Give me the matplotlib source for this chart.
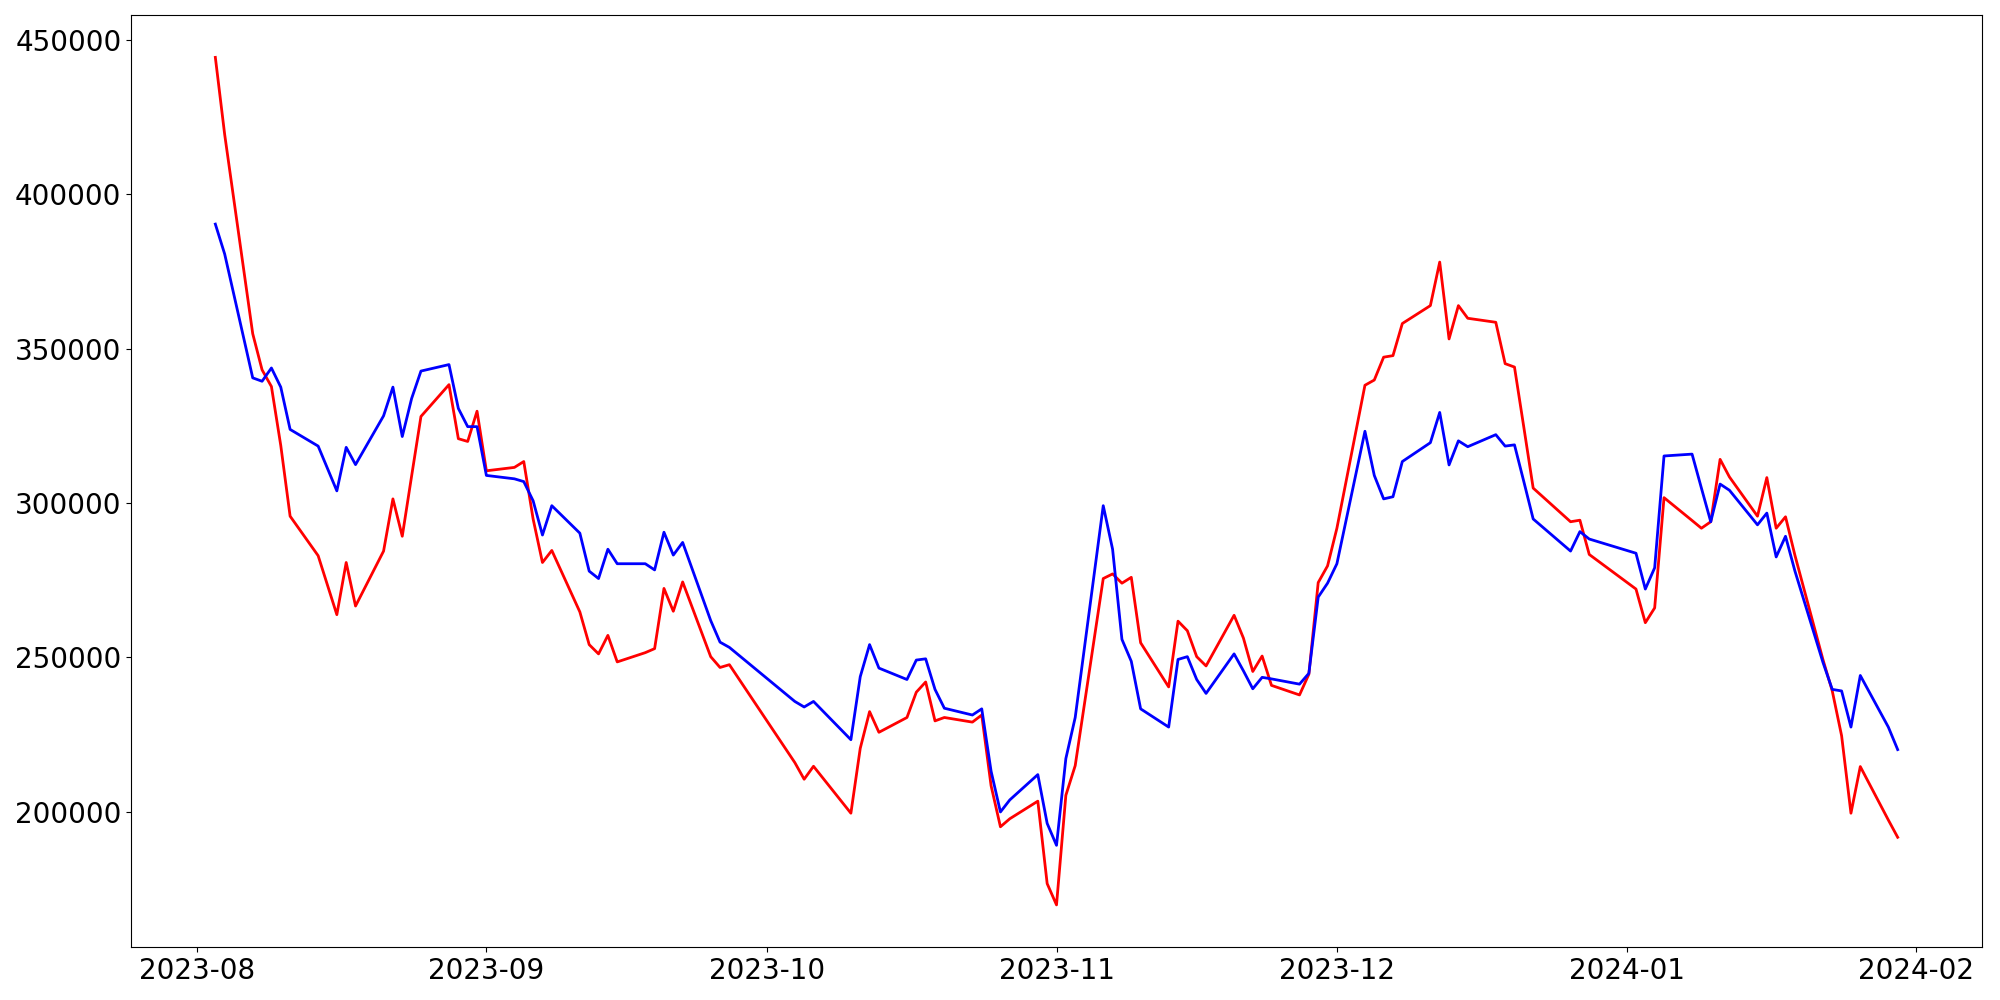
import matplotlib
matplotlib.use("Agg")
import matplotlib.pyplot as plt
import pandas as pd

dates = [
    "2023-08-03", "2023-08-04", "2023-08-07", "2023-08-08", "2023-08-09", "2023-08-10", "2023-08-11",
    "2023-08-14", "2023-08-16", "2023-08-17", "2023-08-18", "2023-08-21", "2023-08-22", "2023-08-23",
    "2023-08-24", "2023-08-25", "2023-08-28", "2023-08-29", "2023-08-30", "2023-08-31", "2023-09-01",
    "2023-09-04", "2023-09-05", "2023-09-06", "2023-09-07", "2023-09-08", "2023-09-11", "2023-09-12",
    "2023-09-13", "2023-09-14", "2023-09-15", "2023-09-18", "2023-09-19", "2023-09-20", "2023-09-21",
    "2023-09-22", "2023-09-25", "2023-09-26", "2023-09-27",
    "2023-10-04", "2023-10-05", "2023-10-06", "2023-10-10", "2023-10-11", "2023-10-12", "2023-10-13",
    "2023-10-16", "2023-10-17", "2023-10-18", "2023-10-19", "2023-10-20", "2023-10-23", "2023-10-24",
    "2023-10-25", "2023-10-26", "2023-10-27", "2023-10-30", "2023-10-31",
    "2023-11-01", "2023-11-02", "2023-11-03", "2023-11-06", "2023-11-07", "2023-11-08", "2023-11-09",
    "2023-11-10", "2023-11-13", "2023-11-14", "2023-11-15", "2023-11-16", "2023-11-17", "2023-11-20",
    "2023-11-21", "2023-11-22", "2023-11-23", "2023-11-24", "2023-11-27", "2023-11-28", "2023-11-29",
    "2023-11-30",
    "2023-12-01", "2023-12-04", "2023-12-05", "2023-12-06", "2023-12-07", "2023-12-08", "2023-12-11",
    "2023-12-12", "2023-12-13", "2023-12-14", "2023-12-15", "2023-12-18", "2023-12-19", "2023-12-20",
    "2023-12-21", "2023-12-22", "2023-12-26", "2023-12-27", "2023-12-28",
    "2024-01-02", "2024-01-03", "2024-01-04", "2024-01-05", "2024-01-08", "2024-01-09", "2024-01-10",
    "2024-01-11", "2024-01-12", "2024-01-15", "2024-01-16", "2024-01-17", "2024-01-18", "2024-01-19",
    "2024-01-22", "2024-01-23", "2024-01-24", "2024-01-25", "2024-01-26", "2024-01-29", "2024-01-30",
]

red_vals = [
    444300, 419300, 354800, 343100, 337700, 318600, 295700, 282900, 263800, 280700, 266600, 284400,
    301300, 289200, 308700, 328000, 338300, 320800, 319900, 329700, 310400,
    311500, 313400, 294800, 280700, 284600, 264700, 254100, 251100, 257100, 248500, 251500, 252800,
    272300, 264900, 274400, 250200, 246700, 247600,
    215900, 210500, 214700, 199500, 220500, 232400, 225700, 230500, 238700, 242000, 229400, 230500,
    229000, 231300, 208400, 195100, 197700, 203400, 176700,
    169800, 205300, 214900, 275500, 277000, 274000, 275900, 254700, 240400, 261700, 258600, 250200,
    247200, 263600, 256200, 245400, 250400, 240900, 237800, 244500, 274200, 279600,
    291800, 338100, 339800, 347200, 347700, 358100, 363900, 378000, 353100, 363900, 359800, 358500,
    345100, 344000, 324500, 304800, 293900, 294400, 283300,
    272100, 261200, 266000, 301700, 294300, 291800, 293900, 314100, 308400, 295700, 308200, 291800,
    295500, 283100, 249300, 239100, 224600, 199500, 214600, 197300, 191700,
]

blue_vals = [
    390300, 380600, 340500, 339400, 343700, 337500, 323800, 318400, 303900, 318000, 312400, 328200,
    337500, 321500, 333800, 342700, 344800, 330600, 324700, 324700, 308900,
    307800, 306900, 300700, 289600, 299100, 290200, 277900, 275500, 285000, 280300, 280300, 278300,
    290500, 283100, 287200, 261900, 254900, 253200,
    235700, 233900, 235700, 223300, 243700, 254100, 246500, 242800, 249100, 249500, 239600, 233500,
    231300, 233300, 213100, 199900, 203800, 212000, 196200,
    189100, 217200, 230500, 299100, 285000, 255800, 248700, 233300, 227400, 249300, 250200, 242800,
    238300, 251100, 245600, 239800, 243500, 243000, 241300, 244800, 269500, 274000,
    280300, 323200, 308900, 301300, 302000, 313400, 319500, 329300, 312300, 320100, 318200, 322100,
    318400, 318800, 306900, 294800, 284400, 290700, 288300,
    283700, 272100, 279000, 315200, 315800, 304800, 293900, 306100, 304100, 292900, 296700, 282500,
    289200, 278000, 248400, 239600, 239100, 227400, 244100, 227400, 220100,
]

x = pd.to_datetime(dates)

plt.figure(figsize=(20, 10))
plt.plot(x, red_vals, color="red", linewidth=2)
plt.plot(x, blue_vals, color="blue", linewidth=2)
plt.xticks(fontsize=20)
plt.yticks(fontsize=20)
plt.tight_layout()
plt.savefig("out.png", dpi=100)
